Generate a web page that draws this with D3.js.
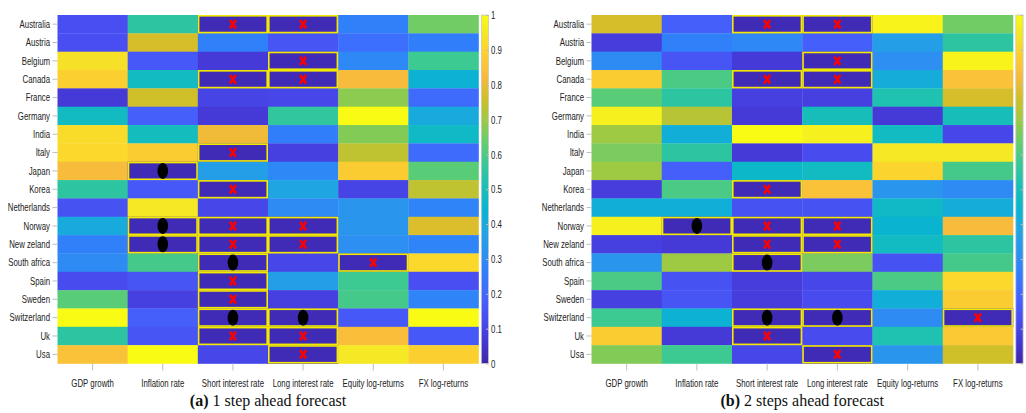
<!DOCTYPE html>
<html>
<head>
<meta charset="utf-8">
<script src="https://cdn.jsdelivr.net/npm/d3@7"></script>
<style>
  body { margin: 0; background: #fff; }
  .axis text { font-family: "Liberation Sans", Arial, sans-serif; font-size: 11.5px; fill: #222; }
  .axis line { stroke: #bdbdbd; }
  .axis path { display: none; }
  .caption { font-family: "Liberation Serif", "DejaVu Serif", serif; font-size: 16px; fill: #111; }
</style>
</head>
<body>
<div id="container"></div>
<script>
/* DATA */
const countries = ["Australia", "Austria", "Belgium", "Canada", "France", "Germany", "India", "Italy", "Japan", "Korea",
  "Netherlands", "Norway", "New zeland", "South africa", "Spain", "Sweden", "Switzerland", "Uk", "Usa"];
const variables = ["GDP growth", "Inflation rate", "Short interest rate", "Long interest rate", "Equity log-returns", "FX log-returns"];

// (a) 1 step ahead : one row per country, one value per variable
const valuesA = [
  [0.13, 0.55, 0.02, 0.02, 0.27, 0.65],
  [0.13, 0.77, 0.27, 0.15, 0.22, 0.26],
  [0.93, 0.16, 0.07, 0.02, 0.29, 0.58],
  [0.89, 0.48, 0.02, 0.02, 0.83, 0.43],
  [0.07, 0.76, 0.10, 0.11, 0.68, 0.21],
  [0.48, 0.18, 0.07, 0.56, 1.00, 0.40],
  [0.92, 0.49, 0.81, 0.26, 0.67, 0.47],
  [0.91, 0.88, 0.02, 0.09, 0.74, 0.21],
  [0.83, 0.02, 0.36, 0.29, 0.88, 0.62],
  [0.55, 0.16, 0.02, 0.38, 0.10, 0.74],
  [0.14, 0.95, 0.11, 0.30, 0.33, 0.28],
  [0.40, 0.02, 0.02, 0.02, 0.33, 0.78],
  [0.27, 0.02, 0.02, 0.02, 0.31, 0.28],
  [0.30, 0.59, 0.02, 0.11, 0.02, 0.91],
  [0.12, 0.15, 0.02, 0.36, 0.58, 0.13],
  [0.62, 0.09, 0.02, 0.09, 0.59, 0.28],
  [1.00, 0.18, 0.02, 0.02, 0.16, 1.00],
  [0.55, 0.15, 0.02, 0.02, 0.84, 0.16],
  [0.85, 1.00, 0.11, 0.02, 0.95, 0.89]
];

// (b) 2 steps ahead
const valuesB = [
  [0.77, 0.18, 0.02, 0.02, 0.98, 0.65],
  [0.08, 0.27, 0.29, 0.18, 0.36, 0.55],
  [0.30, 0.15, 0.07, 0.02, 0.31, 0.98],
  [0.88, 0.60, 0.02, 0.02, 0.41, 0.85],
  [0.62, 0.55, 0.09, 0.09, 0.52, 0.77],
  [0.97, 0.73, 0.07, 0.50, 0.07, 0.50],
  [0.70, 0.42, 1.00, 0.97, 0.48, 0.11],
  [0.66, 0.55, 0.07, 0.12, 0.95, 0.95],
  [0.70, 0.18, 0.46, 0.48, 0.90, 0.59],
  [0.08, 0.60, 0.02, 0.85, 0.33, 0.30],
  [0.42, 0.42, 0.14, 0.14, 0.47, 0.41],
  [0.97, 0.02, 0.02, 0.02, 0.44, 0.83],
  [0.09, 0.07, 0.02, 0.02, 0.48, 0.55],
  [0.33, 0.70, 0.02, 0.66, 0.14, 0.59],
  [0.60, 0.14, 0.08, 0.11, 0.60, 0.91],
  [0.09, 0.15, 0.08, 0.12, 0.42, 0.88],
  [0.58, 0.43, 0.02, 0.02, 0.30, 0.02],
  [0.88, 0.07, 0.02, 0.12, 0.52, 0.87],
  [0.67, 0.58, 0.11, 0.02, 0.33, 0.76]
];

// highlighted cells : [country, variable, symbol]  x = red cross, o = black dot
const marksA = [
  ["Australia", "Short interest rate", "x"], ["Australia", "Long interest rate", "x"],
  ["Belgium", "Long interest rate", "x"],
  ["Canada", "Short interest rate", "x"], ["Canada", "Long interest rate", "x"],
  ["Italy", "Short interest rate", "x"],
  ["Japan", "Inflation rate", "o"],
  ["Korea", "Short interest rate", "x"],
  ["Norway", "Inflation rate", "o"], ["Norway", "Short interest rate", "x"], ["Norway", "Long interest rate", "x"],
  ["New zeland", "Inflation rate", "o"], ["New zeland", "Short interest rate", "x"], ["New zeland", "Long interest rate", "x"],
  ["South africa", "Short interest rate", "o"], ["South africa", "Equity log-returns", "x"],
  ["Spain", "Short interest rate", "x"],
  ["Sweden", "Short interest rate", "x"],
  ["Switzerland", "Short interest rate", "o"], ["Switzerland", "Long interest rate", "o"],
  ["Uk", "Short interest rate", "x"], ["Uk", "Long interest rate", "x"],
  ["Usa", "Long interest rate", "x"]
];

const marksB = [
  ["Australia", "Short interest rate", "x"], ["Australia", "Long interest rate", "x"],
  ["Belgium", "Long interest rate", "x"],
  ["Canada", "Short interest rate", "x"], ["Canada", "Long interest rate", "x"],
  ["Korea", "Short interest rate", "x"],
  ["Norway", "Inflation rate", "o"], ["Norway", "Short interest rate", "x"], ["Norway", "Long interest rate", "x"],
  ["New zeland", "Short interest rate", "x"], ["New zeland", "Long interest rate", "x"],
  ["South africa", "Short interest rate", "o"],
  ["Switzerland", "Short interest rate", "o"], ["Switzerland", "Long interest rate", "o"], ["Switzerland", "FX log-returns", "x"],
  ["Uk", "Short interest rate", "x"],
  ["Usa", "Long interest rate", "x"]
];

const colorbarTicks = [0, 0.1, 0.2, 0.3, 0.4, 0.5, 0.6, 0.7, 0.8, 0.9, 1];
const captionTags = ["(a)", "(b)"];
const captionTexts = [" 1 step ahead forecast", " 2 steps ahead forecast"];

/* CONSTANTS AND GLOBALS */
const width = 1026;
const height = 413;
const yTop = 15, yBottom = 363.5;
const squeezeX = 0.68; // tick labels are set in a very condensed face

// parula colormap (sampled)
const parula = [
  [0.2422, 0.1504, 0.6603], [0.2706, 0.2147, 0.8364], [0.2813, 0.3006, 0.9414], [0.2699, 0.3892, 0.9906],
  [0.1963, 0.4847, 0.9892], [0.1687, 0.5703, 0.9359], [0.1248, 0.6459, 0.8883], [0.0297, 0.7082, 0.8163],
  [0.0964, 0.7500, 0.7120], [0.2161, 0.7843, 0.5923], [0.3909, 0.8029, 0.4354], [0.6174, 0.7876, 0.2612],
  [0.8203, 0.7498, 0.1535], [0.9728, 0.7298, 0.2394], [0.9892, 0.8136, 0.1885], [0.9597, 0.9135, 0.1423],
  [0.9769, 0.9839, 0.0805]
];
const parulaPos = [0, 4, 8, 12, 16, 20, 24, 28, 32, 36, 40, 44, 48, 52, 56, 60, 63].map(i => i / 63);
const colorScale = d3.scaleLinear()
  .domain(parulaPos)
  .range(parula.map(c => d3.rgb(c[0] * 255, c[1] * 255, c[2] * 255).formatHex()))
  .clamp(true);

// the second colorbar runs into the page edge, its labels fall outside the picture
const panels = [
  { x0: 57.5, x1: 478.5, values: valuesA, marks: marksA, cbLabels: true },
  { x0: 591.5, x1: 1013, values: valuesB, marks: marksB, cbLabels: false }
];

// condense the tick labels horizontally, keeping their anchor point
function squeeze(axisG) {
  axisG.selectAll("text").each(function () {
    const t = d3.select(this);
    const x = +t.attr("x") || 0;
    const y = +t.attr("y") || 0;
    t.attr("x", 0).attr("y", 0)
      .attr("transform", `translate(${x},${y}) scale(${squeezeX},1)`);
  });
}

const svg = d3.select("#container")
  .append("svg")
  .attr("width", width)
  .attr("height", height)
  .style("display", "block");

const defs = svg.append("defs");
const grad = defs.append("linearGradient")
  .attr("id", "parula")
  .attr("x1", 0).attr("y1", 1).attr("x2", 0).attr("y2", 0);
grad.selectAll("stop")
  .data(parulaPos)
  .join("stop")
  .attr("offset", d => d)
  .attr("stop-color", d => colorScale(d));

panels.forEach((p, i) => {
  const g = svg.append("g");

  /* SCALES */
  const xScale = d3.scaleBand().domain(variables).range([p.x0, p.x1]);
  const yScale = d3.scaleBand().domain(countries).range([yTop, yBottom]);

  /** cells */
  const cells = [];
  countries.forEach((c, r) => variables.forEach((v, k) => cells.push({ c, v, value: p.values[r][k] })));

  g.selectAll(".cell")
    .data(cells)
    .join("rect")
    .attr("class", "cell")
    .attr("x", d => xScale(d.v))
    .attr("y", d => yScale(d.c))
    .attr("width", xScale.bandwidth() + 0.3)
    .attr("height", yScale.bandwidth() + 0.3)
    .attr("fill", d => colorScale(d.value));

  /** yellow boxes round the significant cells */
  g.selectAll(".box")
    .data(p.marks)
    .join("rect")
    .attr("class", "box")
    .attr("x", d => xScale(d[1]) + 0.8)
    .attr("y", d => yScale(d[0]) + 0.8)
    .attr("width", xScale.bandwidth() - 1.6)
    .attr("height", yScale.bandwidth() - 1.6)
    .attr("fill", "none")
    .attr("stroke", "#f3ea00")
    .attr("stroke-width", 1.6);

  // symbols
  const sym = g.selectAll(".sym")
    .data(p.marks)
    .join("g")
    .attr("class", "sym")
    .attr("transform", d => `translate(${xScale(d[1]) + xScale.bandwidth() / 2}, ${yScale(d[0]) + yScale.bandwidth() / 2})`);

  sym.filter(d => d[2] === "x")
    .append("path")
    .attr("d", "M-3,-4.2L3,4.2M-3,4.2L3,-4.2")
    .attr("stroke", "#ff0000")
    .attr("stroke-width", 2.6)
    .attr("fill", "none");

  sym.filter(d => d[2] === "o")
    .append("ellipse")
    .attr("rx", 5.3)
    .attr("ry", 8)
    .attr("fill", "#000");

  /** axes */
  g.append("g")
    .attr("class", "axis")
    .attr("transform", `translate(${p.x0}, 0)`)
    .call(d3.axisLeft(yScale).tickSize(5).tickPadding(2.5))
    .call(squeeze);

  g.append("g")
    .attr("class", "axis")
    .attr("transform", `translate(0, ${yBottom})`)
    .call(d3.axisBottom(xScale).tickSize(7).tickPadding(8))
    .call(squeeze);

  /** colorbar */
  const cbX = p.x1 + 2.8;
  g.append("rect")
    .attr("x", cbX)
    .attr("y", yTop)
    .attr("width", 7.3)
    .attr("height", yBottom - yTop)
    .attr("fill", "url(#parula)")
    .attr("stroke", "#c8c8c8")
    .attr("stroke-width", 0.8);

  const cbScale = d3.scaleLinear().domain([0, 1]).range([yBottom, yTop]);
  const cbAxis = g.append("g")
    .attr("class", "axis cb")
    .attr("transform", `translate(${cbX + 7.3}, 0)`)
    .call(d3.axisRight(cbScale)
      .tickValues(colorbarTicks)
      .tickFormat(p.cbLabels ? d3.format("~g") : () => "")
      .tickSize(-2.5).tickPadding(2.5))
    .call(squeeze);
  cbAxis.selectAll("line").attr("stroke", "#555");

  /** caption */
  const cap = g.append("text")
    .attr("class", "caption")
    .attr("x", (p.x0 + p.x1) / 2)
    .attr("y", 406)
    .attr("text-anchor", "middle");
  cap.append("tspan").attr("font-weight", "bold").text(captionTags[i]);
  cap.append("tspan").text(captionTexts[i]);
});
</script>
</body>
</html>
